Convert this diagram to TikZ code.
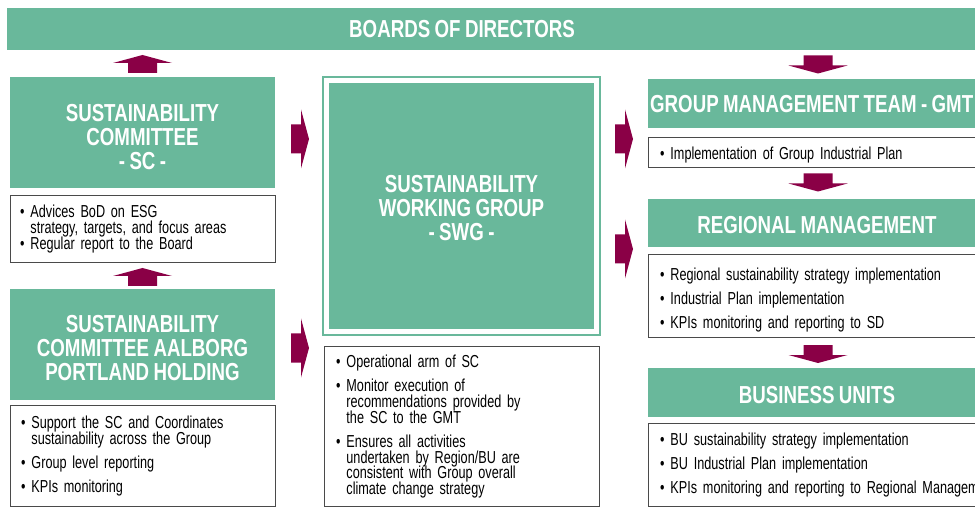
\documentclass[tikz,border=0pt]{standalone}
\usepackage{fontspec}
\setmainfont{Liberation Sans}[FakeStretch=0.73, WordSpace=0.8]
\newfontfamily\hdrfont{Liberation Sans}[FakeStretch=0.76, WordSpace=0.85]
\usetikzlibrary{fit}
\definecolor{boxgreen}{HTML}{69B89B}
\definecolor{arrowred}{HTML}{8A0046}
\definecolor{framegray}{HTML}{4A4A4A}
\newcommand{\bitem}[1]{\par\noindent\sbox0{\textbullet\ }\usebox0#1\hangindent=\wd0\hangafter=1\par}
\DeclareRobustCommand{\tightlines}{\lineskiplimit=-100pt\relax\parskip=7.1pt\relax}
\tikzset{
  hdr/.style={rectangle, fill=boxgreen, inner sep=0pt},
  hdrtext/.style={align=center, text=white, inner sep=0pt, font=\hdrfont\bfseries\fontsize{21}{20.5}\selectfont},
  descbox/.style={rectangle, draw=framegray, line width=0.7pt, fill=white, inner sep=0pt},
  desctext/.style={anchor=north west, align=left, inner sep=0pt, font=\fontsize{14.8}{13.4}\selectfont\tightlines},
  swgframe/.style={rectangle, draw=boxgreen, line width=1.7pt, inner sep=0.17cm},
  pics/blockarrow/.style={code={
    \fill[arrowred] (-0.435,-0.27) -- (-0.435,0.03) -- (-0.885,0.03) -- (0,0.27) -- (0.885,0.03) -- (0.435,0.03) -- (0.435,-0.27) -- cycle;
  }}
}

\begin{document}
\begin{tikzpicture}
\useasboundingbox (0,0) rectangle (29.25,15.21);

% Board bar.
\node[hdr, minimum width=29.5cm, minimum height=1.26cm] (bod) at (14.96,14.34) {};
\node[hdrtext] (bodtitle) at (13.86,14.34) {BOARDS OF DIRECTORS};

% Left column.
\node[hdr, minimum width=7.95cm, minimum height=3.33cm] (sc) at (4.275,11.235) {};
\node[hdrtext] (sctitle) at ([yshift=-0.15cm]sc.center) {SUSTAINABILITY\\COMMITTEE\\- SC -};
\node[descbox, minimum width=7.95cm, minimum height=2.01cm] (scdesc) at (4.275,8.355) {};
\node[desctext, text width=7.3cm] (scdesctext) at (0.6,9.4) {%
  \bitem{Advices BoD on ESG\newline strategy, targets, and focus areas}%
  \vspace{-7.1pt}%
  \bitem{Regular report to the Board}};

\node[hdr, minimum width=7.95cm, minimum height=3.33cm] (scap) at (4.275,4.875) {};
\node[hdrtext] (scaptitle) at ([yshift=-0.1cm]scap.center) {SUSTAINABILITY\\COMMITTEE AALBORG\\PORTLAND HOLDING};
\node[descbox, minimum width=7.95cm, minimum height=3.03cm] (scapdesc) at (4.275,1.545) {};
\node[desctext, text width=7.3cm] (scapdesctext) at (0.63,3.07) {%
  \bitem{Support the SC and Coordinates\newline sustainability across the Group}%
  \bitem{Group level reporting}%
  \bitem{KPIs monitoring}};

% Working group.
\node[hdr, minimum width=7.95cm, minimum height=7.38cm] (swg) at (13.845,9.03) {};
\node[swgframe, fit=(swg)] (swgbox) {};
\node[hdrtext] (swgtitle) at ([yshift=-0.06cm]swg.center) {SUSTAINABILITY\\WORKING GROUP\\- SWG -};
\node[descbox, minimum width=8.25cm, minimum height=4.8cm] (swgdesc) at (13.845,2.43) {};
\node[desctext, text width=7.6cm] (swgdesctext) at (10.08,4.9) {%
  \bitem{Operational arm of SC}%
  \bitem{Monitor execution of\newline recommendations provided by\newline the SC to the GMT}%
  \bitem{Ensures all activities\newline undertaken by Region/BU are\newline consistent with Group overall\newline climate change strategy}};

% Right column.
\node[hdr, minimum width=10.14cm, minimum height=1.47cm] (gmt) at (24.51,12.105) {};
\node[hdrtext] (gmttitle) at ([yshift=-0.03cm]gmt.center) {GROUP MANAGEMENT TEAM - GMT -};
\node[descbox, minimum width=10.14cm, minimum height=0.9cm] (gmtdesc) at (24.51,10.65) {};
\node[desctext, text width=9.6cm] (gmtdesctext) at (19.8,11.14) {%
  \bitem{Implementation of Group Industrial Plan}};

\node[hdr, minimum width=10.14cm, minimum height=1.44cm] (rm) at (24.51,8.52) {};
\node[hdrtext] (rmtitle) at ([yshift=-0.06cm]rm.center) {REGIONAL MANAGEMENT};
\node[descbox, minimum width=10.14cm, minimum height=2.49cm] (rmdesc) at (24.51,6.345) {};
\node[desctext, text width=9.6cm] (rmdesctext) at (19.8,7.51) {%
  \bitem{Regional sustainability strategy implementation}%
  \bitem{Industrial Plan implementation}%
  \bitem{KPIs monitoring and reporting to SD}};

\node[hdr, minimum width=10.14cm, minimum height=1.47cm] (bu) at (24.51,3.435) {};
\node[hdrtext] (butitle) at ([yshift=-0.09cm]bu.center) {BUSINESS UNITS};
\node[descbox, minimum width=10.14cm, minimum height=2.49cm] (budesc) at (24.51,1.275) {};
\node[desctext, text width=9.6cm] (budesctext) at (19.8,2.56) {%
  \bitem{BU sustainability strategy implementation}%
  \bitem{BU Industrial Plan implementation}%
  \bitem{\mbox{KPIs monitoring and reporting to Regional Management}}};

% Block arrows.
\pic at (4.275,13.29) {blockarrow};
\pic at (4.275,6.9) {blockarrow};
\pic[rotate=-90] at (9.0,11.04) {blockarrow};
\pic[rotate=-90] at (9.0,4.77) {blockarrow};
\pic[rotate=-90] at (18.72,11.04) {blockarrow};
\pic[rotate=-90] at (18.72,7.74) {blockarrow};
\foreach \y in {13.275,9.735,4.59} {
  \pic[rotate=180] at (24.54,\y) {blockarrow};
}

\end{tikzpicture}
\end{document}
